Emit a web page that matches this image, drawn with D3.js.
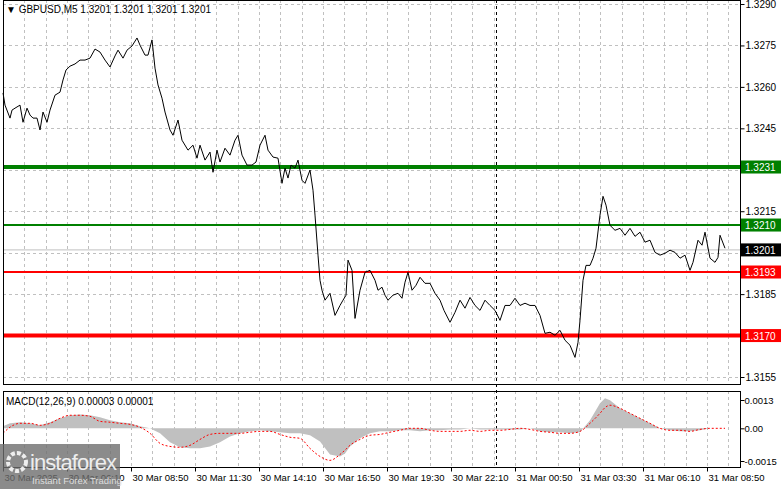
<!DOCTYPE html>
<html><head><meta charset="utf-8">
<script src="https://cdn.jsdelivr.net/npm/d3@7"></script>
<style>body{margin:0;background:#fff}svg{display:block}text{font-family:"Liberation Sans",Arial,sans-serif}</style>
</head><body><div id="chart"></div>
<script>
// bar number (5 minute bars) and close price
var priceBars = [0,1,3.5,4.5,6,8.5,10,12,13.5,15,17,18.5,20,22,23.5,26,28.5,30,31.5,33.5,36,38.5,41,43.5,46,48.5,51,53.5,56,57.5,60,62,64.5,67,68.5,71,72.5,74.5,76,77.5,79.5,81,83.5,85,87.5,89.5,92.5,95,97,98.5,101,103.5,105,107,108.5,111,113.5,116,117.5,119.5,122,124.5,126.5,128.5,131,132.5,135,137.5,139.5,141,142.5,144,146,147.5,149.5,151,153.5,155,156,157.5,158.5,159.5,161,163.5,166,168.5,170,171.5,172.5,174.5,176,178.5,181,183.5,186,187.5,189.5,191,192.5,195,197.5,199.5,201,202.5,204.5,206.5,208.5,211,213.5,216,218.5,220.5,223.5,226,228.5,231,233.5,236,238.5,241,243.5,246,248.5,251,253.5,256,258.5,261,263.5,266,268.5,271,273.5,276,278.5,281,283.5,286,287.5,288.5,290,291.5,293.5,295,296.5,298.5,300,301.5,303.5,306,308.5,311,313.5,316,318.5,321,323.5,326,328.5,331,333.5,336,338.5,341,343.5,345,347.5,349.5,351,353.5,356,357.5,358.5,361];
var closes = [1.32578,1.32534,1.32487,1.32516,1.32523,1.32534,1.32472,1.32523,1.32498,1.32487,1.32487,1.32444,1.32509,1.32472,1.32516,1.32570,1.32581,1.32625,1.32661,1.32675,1.32683,1.32697,1.32697,1.32704,1.32737,1.32726,1.32697,1.32672,1.32712,1.32733,1.32704,1.32733,1.32748,1.32777,1.32751,1.32715,1.32715,1.32770,1.32668,1.32607,1.32559,1.32509,1.32444,1.32425,1.32480,1.32407,1.32371,1.32389,1.32342,1.32389,1.32335,1.32364,1.32291,1.32371,1.32328,1.32378,1.32353,1.32407,1.32425,1.32353,1.32317,1.32317,1.32328,1.32389,1.32425,1.32371,1.32346,1.32342,1.32251,1.32306,1.32270,1.32317,1.32306,1.32335,1.32262,1.32251,1.32299,1.32226,1.32136,1.31991,1.31900,1.31864,1.31828,1.31853,1.31773,1.31809,1.31828,1.31846,1.31973,1.31936,1.31762,1.31864,1.31929,1.31936,1.31900,1.31864,1.31875,1.31846,1.31828,1.31846,1.31853,1.31835,1.31893,1.31929,1.31864,1.31882,1.31911,1.31889,1.31889,1.31853,1.31828,1.31791,1.31748,1.31784,1.31828,1.31799,1.31838,1.31809,1.31791,1.31828,1.31809,1.31791,1.31755,1.31809,1.31809,1.31835,1.31809,1.31817,1.31809,1.31809,1.31773,1.31708,1.31712,1.31701,1.31719,1.31683,1.31665,1.31621,1.31675,1.31755,1.31900,1.31954,1.31954,1.31980,1.32016,1.32136,1.32204,1.32172,1.32099,1.32081,1.32088,1.32063,1.32088,1.32059,1.32074,1.32038,1.32045,1.32001,1.31991,1.31998,1.32009,1.32001,1.31980,1.31991,1.31936,1.31965,1.32045,1.32027,1.32074,1.31980,1.31965,1.31983,1.32063,1.32016];

var priceTicks = [1.3290,1.3275,1.3260,1.3245,1.3230,1.3215,1.3200,1.3185,1.3170,1.3155];
var priceTickLabels = ["1.3290","1.3275","1.3260","1.3245","","1.3215","","1.3185","","1.3155"];
var levels = [1.3231,1.3210,1.3201,1.3193,1.3170];
var levelLabels = ["1.3231","1.3210","1.3201","1.3193","1.3170"];
var levelColors = ["#008000","#008000","#000000","#ff0000","#ff0000"];
var levelWidths = [4,2,1,2,4];

var macdBars = [0,3.5,8.5,13.5,18.5,23.5,28.5,33.5,38.5,43.5,48.5,53.5,58.5,63.5,68.5,73.5,78.5,83.5,88.5,93.5,98.5,103.5,108.5,113.5,118.5,123.5,128.5,133.5,138.5,143.5,148.5,153.5,158.5,163.5,168.5,171,173.5,178.5,183.5,188.5,193.5,198.5,203.5,208.5,213.5,218.5,223.5,228.5,233.5,238.5,243.5,248.5,253.5,258.5,263.5,268.5,273.5,278.5,283.5,288.5,293.5,298.5,301,303.5,308.5,313.5,318.5,323.5,328.5,333.5,338.5,343.5,348.5,353.5,358.5,361];
var macdHist = [0.00009,0.00023,0.00028,0.00023,0.00014,0.00028,0.00046,0.0006,0.00064,0.0006,0.00051,0.00037,0.00028,0.00023,0.00009,0,-0.00023,-0.00064,-0.00087,-0.00092,-0.00092,-0.00083,-0.00064,-0.00037,-0.00023,-0.00014,-0.00009,-0.00014,-0.00018,-0.00023,-0.00023,-0.00032,-0.0006,-0.0012,-0.00129,-0.00115,-0.00083,-0.00046,-0.00023,-0.00014,-0.00014,-0.00009,-0.00009,-0.00014,-0.00009,-0.00009,-0.00005,-0.00005,0,-0.00005,-0.00005,-0.00005,-0.00005,-0.00005,0,-0.00014,-0.00018,-0.00018,-0.00023,-0.00018,0.00037,0.00115,0.00138,0.00129,0.00092,0.00069,0.00046,0.00023,0,-0.00009,-0.00014,-0.00014,-0.00009,0,0,0];
var macdSignal = [-0.00023,0.00005,0.00023,0.00023,0.00014,0.00023,0.00046,0.0006,0.0006,0.00055,0.00032,0.00028,0.00023,0.00018,0.00005,-0.00023,-0.00069,-0.00083,-0.00087,-0.00078,-0.00051,-0.00028,-0.00023,-0.00023,-0.00023,-0.00018,-0.00014,-0.00014,-0.00028,-0.00041,-0.00046,-0.00092,-0.00129,-0.00147,-0.0012,-0.001,-0.00078,-0.00051,-0.00032,-0.00028,-0.00018,-0.00009,0,0,-0.00009,-0.00014,-0.00014,-0.00014,-0.00009,-0.00014,-0.00009,-0.00009,-0.00005,0,-0.00005,-0.00014,-0.00018,-0.00023,-0.00023,-0.00014,0.00023,0.00069,0.00095,0.00106,0.00092,0.00069,0.00046,0.00023,0,-0.00009,-0.00009,-0.00014,-0.00005,0,0,0];
var macdTicks = [0.0013,0,-0.0015];
var macdTickLabels = ["0.0013","0.00","-0.0015"];

var timeBars = [0,32,64,96,128,160,192,224,256,288,320,352];
var timeLabels = ["30 Mar 2025","30 Mar 06:10","30 Mar 08:50","30 Mar 11:30","30 Mar 14:10","30 Mar 16:50","30 Mar 19:30","30 Mar 22:10","31 Mar 00:50","31 Mar 03:30","31 Mar 06:10","31 Mar 08:50"];
var daySplitBar = 246.5;

var W = 781, H = 489, L = 3, R = 740;
var svg = d3.select("#chart").append("svg").attr("width", W).attr("height", H);

var x = d3.scaleLinear().domain([0, 368.5]).range([L, R]);
var y = d3.scaleLinear().domain([1.3155, 1.3290]).range([377, 4]);
var ym = d3.scaleLinear().domain([-0.0015, 0.0013]).range([461, 400]);

var main = {top: 0, bottom: 384}, sub = {top: 391, bottom: 467};

// vertical dashed grid
[main, sub].forEach(function(p){
	for (var b = 32/3; b < 368; b += 32/3) {
		svg.append("line").attr("x1", Math.round(x(b))+.5).attr("x2", Math.round(x(b))+.5)
			.attr("y1", p.top).attr("y2", p.bottom)
			.attr("stroke", "#c0c0c0").attr("stroke-dasharray", "3,3");
	}
});
priceTicks.forEach(function(t){
	svg.append("line").attr("x1", L).attr("x2", R).attr("y1", Math.round(y(t))+.5).attr("y2", Math.round(y(t))+.5)
		.attr("stroke", "#c0c0c0").attr("stroke-dasharray", "3,3");
});
svg.append("line").attr("x1", Math.round(x(daySplitBar))+.5).attr("x2", Math.round(x(daySplitBar))+.5)
	.attr("y1", 0).attr("y2", sub.bottom).attr("stroke", "#000").attr("stroke-dasharray", "3,3");

// level lines
levels.forEach(function(v, i){
	svg.append("line").attr("x1", L).attr("x2", R).attr("y1", y(v)).attr("y2", y(v))
		.attr("stroke", i == 2 ? "#c0c0c0" : levelColors[i]).attr("stroke-width", levelWidths[i]);
});

// price line
var pts = priceBars.map(function(b, i){ return [b, closes[i]]; }).filter(function(d){ return d[1] != null; });
svg.append("path").datum(pts)
	.attr("d", d3.line().x(function(d){ return x(d[0]); }).y(function(d){ return y(d[1]); }))
	.attr("fill", "none").attr("stroke", "#000").attr("stroke-width", 1);

// macd
var hist = macdBars.map(function(b, i){ return [b, macdHist[i]]; });
svg.append("path").datum(hist)
	.attr("d", d3.area().x(function(d){ return x(d[0]); }).y0(ym(0)).y1(function(d){ return ym(d[1]); }))
	.attr("fill", "#c0c0c0");
var sig = macdBars.map(function(b, i){ return [b, macdSignal[i]]; });
svg.append("path").datum(sig)
	.attr("d", d3.line().curve(d3.curveMonotoneX).x(function(d){ return x(d[0]); }).y(function(d){ return ym(d[1]); }))
	.attr("fill", "none").attr("stroke", "#ff0000").attr("stroke-dasharray", "2,2");

// frames
[main, sub].forEach(function(p){
	svg.append("rect").attr("x", L+.5).attr("y", p.top+.5).attr("width", R-L).attr("height", p.bottom-p.top)
		.attr("fill", "none").attr("stroke", "#000");
});

// right axes
var ax = d3.axisRight(y).tickValues(priceTicks).tickSize(4).tickFormat(function(d, i){ return priceTickLabels[i]; });
svg.append("g").attr("transform", "translate(" + (R+.5) + ",0)").call(ax)
	.call(function(g){ g.select(".domain").remove(); g.selectAll("text").attr("font-size", 10).attr("font-family", "Liberation Sans").attr("x", 5).attr("fill", "#000"); });
var axm = d3.axisRight(ym).tickValues(macdTicks).tickSize(4).tickFormat(function(d, i){ return macdTickLabels[i]; });
svg.append("g").attr("transform", "translate(" + (R+.5) + ",0)").call(axm)
	.call(function(g){ g.select(".domain").remove(); g.selectAll("text").attr("font-size", 9.5).attr("font-family", "Liberation Sans").attr("x", 4).attr("fill", "#000"); });

// level labels
levels.forEach(function(v, i){
	svg.append("rect").attr("x", R+1).attr("y", y(v)-6.5).attr("width", W-R).attr("height", 13).attr("fill", levelColors[i]);
	svg.append("text").attr("x", R+5).attr("y", y(v)+4).attr("font-size", 10).attr("fill", "#fff").text(levelLabels[i]);
});

// time axis
var xa = d3.axisBottom(x).tickValues(timeBars).tickSize(4).tickFormat(function(d, i){ return timeLabels[i]; });
svg.append("g").attr("transform", "translate(0," + (sub.bottom+.5) + ")").call(xa)
	.call(function(g){ g.select(".domain").remove(); g.selectAll("text").attr("font-size", 9.5).attr("font-family", "Liberation Sans").attr("text-anchor", "start").attr("dx", 1).attr("y", 7).attr("fill", "#000"); });

// titles
svg.append("text").attr("x", 6).attr("y", 13).attr("font-size", 10).text("\u25BC GBPUSD,M5  1.3201 1.3201 1.3201 1.3201");
svg.append("text").attr("x", 6).attr("y", 405).attr("font-size", 10).text("MACD(12,26,9) 0.00003 0.00001");

// watermark
svg.append("rect").attr("x", 0).attr("y", 444).attr("width", 120).attr("height", 45).attr("fill", "#6e6e6e").attr("opacity", .8);
svg.append("circle").attr("cx", 17).attr("cy", 462).attr("r", 9).attr("fill", "none").attr("stroke", "#eee").attr("stroke-width", 4).attr("stroke-dasharray", "4,2");
svg.append("text").attr("x", 30).attr("y", 470).attr("font-size", 22).attr("textLength", 87).attr("fill", "#eee").text("instaforex");
svg.append("text").attr("x", 32).attr("y", 484).attr("font-size", 9.5).attr("fill", "#ddd").text("Instant Forex Trading");
</script></body></html>
